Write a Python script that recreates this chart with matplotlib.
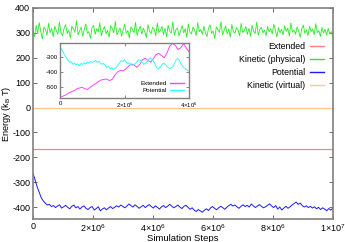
import numpy as np
import matplotlib
matplotlib.use('Agg')
import matplotlib.pyplot as plt

plt.rcParams['font.family'] = ['Liberation Sans', 'DejaVu Sans']
plt.rcParams['mathtext.fontset'] = 'custom'
plt.rcParams['mathtext.rm'] = 'Liberation Sans'
plt.rcParams['mathtext.it'] = 'Liberation Sans:italic'
plt.rcParams['axes.unicode_minus'] = False

# main panel data
kinetic_phys = [312, 285, 330, 298, 341, 305, 276, 322, 315, 290, 338, 301, 318, 284, 327, 309,
                295, 344, 300, 288, 319, 333, 297, 311, 280, 326, 316, 302, 349, 291, 308, 323,
                287, 314, 336, 299, 305, 278, 321, 330, 294, 317, 303, 340, 289, 312, 325, 296,
                310, 283, 329, 318, 300, 346, 292, 306, 320, 286, 313, 335, 298, 309, 279, 324,
                316, 301, 342, 290, 311, 327, 295, 319, 304, 281, 333, 307, 297, 322, 315, 288,
                339, 302, 310, 326, 293, 318, 284, 331, 306, 299, 344, 291, 313, 320, 287, 308,
                329, 300, 317, 282, 336, 303, 296, 323, 311, 289, 341, 305, 314, 294, 326, 300,
                285, 319, 332, 298, 307, 277, 324, 313, 302, 345, 292, 310, 328, 296, 316, 283,
                334, 305, 299, 321, 312, 288, 338, 301, 309, 325, 294, 318, 286, 330, 307, 297,
                343, 290, 314, 322, 300, 311, 288, 326, 304, 317, 296, 335, 309, 284, 321, 300,
                314, 292, 328, 306, 319, 287, 340, 303, 311, 295, 324, 308, 282, 317, 331, 298,
                312, 289, 326, 305, 316, 293, 337, 301, 309, 286, 322, 299, 314, 291, 318, 296,
                305, 284]
potential = [-265, -290, -318, -340, -362, -375, -384, -392, -389, -398, -394, -402, -396, -391,
             -404, -399, -393, -401, -407, -397, -392, -403, -398, -408, -400, -395, -405, -410,
             -402, -398, -412, -406, -399, -415, -408, -403, -411, -404, -398, -406, -401, -395,
             -400, -392, -397, -403, -396, -388, -394, -400, -391, -397, -405, -399, -393, -402,
             -396, -390, -398, -404, -395, -401, -408, -399, -394, -402, -397, -389, -396, -403,
             -398, -392, -400, -406, -397, -393, -401, -409, -403, -412, -418, -410, -415, -421,
             -413, -407, -414, -404, -398, -405, -411, -403, -397, -402, -409, -401, -394, -389,
             -396, -392, -399, -405, -397, -391, -398, -393, -400, -388, -395, -402, -396, -390,
             -397, -403, -399, -393, -387, -396, -402, -394, -408, -400, -412, -404, -397, -405,
             -399, -392, -386, -380, -389, -384, -394, -400, -395, -402, -397, -404, -399, -407,
             -401, -410, -403, -408, -415, -406, -412, -405]
extended = [-168, -168]
kinetic_virt = [0, 0]
const_steps = [0, 1e7]

# inset data
inset_extended = [-568, -560, -552, -540, -532, -524, -512, -506, -500, -510, -515, -500, -488,
                  -476, -462, -452, -448, -446, -456, -448, -420, -398, -388, -392, -378, -360,
                  -346, -352, -368, -350, -318, -308, -322, -334, -310, -282, -276, -290, -304,
                  -270, -226, -210, -222, -250, -238, -210, -240, -266]
inset_potential = [-232, -250, -268, -290, -305, -322, -335, -330, -348, -340, -352, -345, -358,
                   -342, -350, -338, -346, -332, -340, -328, -336, -330, -322, -334, -328, -340,
                   -348, -342, -356, -370, -362, -378, -370, -382, -376, -368, -350, -336, -324,
                   -330, -318, -332, -344, -338, -350, -356, -348, -340, -326, -318, -324, -336,
                   -348, -340, -330, -316, -306, -314, -326, -350, -372, -380, -368, -352, -340,
                   -346, -358, -368, -376, -372, -362, -340, -318, -310, -322, -344, -360, -372,
                   -380, -388, -396]

x_ticks = [0, 2e6, 4e6, 6e6, 8e6, 1e7]
x_labels = ['0', r'$2{\times}10^6$', r'$4{\times}10^6$', r'$6{\times}10^6$', r'$8{\times}10^6$', r'$1{\times}10^7$']

fig = plt.figure(figsize=(3.45, 2.42), dpi=100)
ax = fig.add_axes([0.0957, 0.093, 0.869, 0.874])

ax.plot(const_steps, extended, color='#ff8080', lw=0.9, label='Extended')
ax.plot(np.linspace(0, 1e7, len(kinetic_phys)), kinetic_phys, color='#22ee22', lw=0.6, label='Kinetic (physical)')
ax.plot(np.linspace(0, 1e7, len(potential)), potential, color='#1a1aff', lw=0.7, label='Potential')
ax.plot(const_steps, kinetic_virt, color='#ffc880', lw=0.9, label='Kinetic (virtual)')

ax.set_xlim(0, 1e7)
ax.set_ylim(-450, 400)
ax.set_xticks(x_ticks)
ax.set_xticklabels(x_labels)
ax.set_yticks(range(-400, 401, 100))
ax.tick_params(direction='in', top=True, right=True, labelsize=6.5, length=3, width=0.6,
               color='#555555', pad=2)
for s in ax.spines.values():
    s.set_color('#808080')
    s.set_linewidth(1.2)
ax.set_xlabel('Simulation Steps', fontsize=6.8, labelpad=0)
ax.set_ylabel(r'Energy (k$_\mathrm{B}$ T)', fontsize=6.6)
ax.yaxis.set_label_coords(-0.066, 0.5)

leg = ax.legend(loc='upper right', bbox_to_anchor=(0.985, 0.86), frameon=False, markerfirst=False,
                fontsize=6.3, handlelength=1.6, labelspacing=0.45, handletextpad=0.5, borderpad=0)
for ln in leg.get_lines():
    ln.set_linewidth(1.0)

# inset
ins = fig.add_axes([0.174, 0.593, 0.374, 0.229])
ins.plot(np.linspace(0, 4e6, len(inset_extended)), inset_extended, color='#ff44ff', lw=0.7, label='Extended')
ins.plot(np.linspace(0, 4e6, len(inset_potential)), inset_potential, color='#33ffff', lw=0.7, label='Potential')
ins.set_xlim(0, 4e6)
ins.set_ylim(-575, -207)
ins.set_xticks([0, 2e6, 4e6])
ins.set_xticklabels(['0', r'$2{\times}10^6$', r'$4{\times}10^6$'])
ins.set_yticks([-300, -400, -500])
ins.tick_params(direction='in', top=True, right=True, labelsize=4.3, length=2, width=0.5,
                color='#555555', pad=1.5)
for s in ins.spines.values():
    s.set_color('#808080')
    s.set_linewidth(1.0)
leg2 = ins.legend(loc='lower right', frameon=False, markerfirst=False, fontsize=4.5, handlelength=2.2,
                  labelspacing=0.3, handletextpad=0.5, borderpad=0.3)
for ln in leg2.get_lines():
    ln.set_linewidth(1.0)

fig.savefig('out.png', dpi=100)
